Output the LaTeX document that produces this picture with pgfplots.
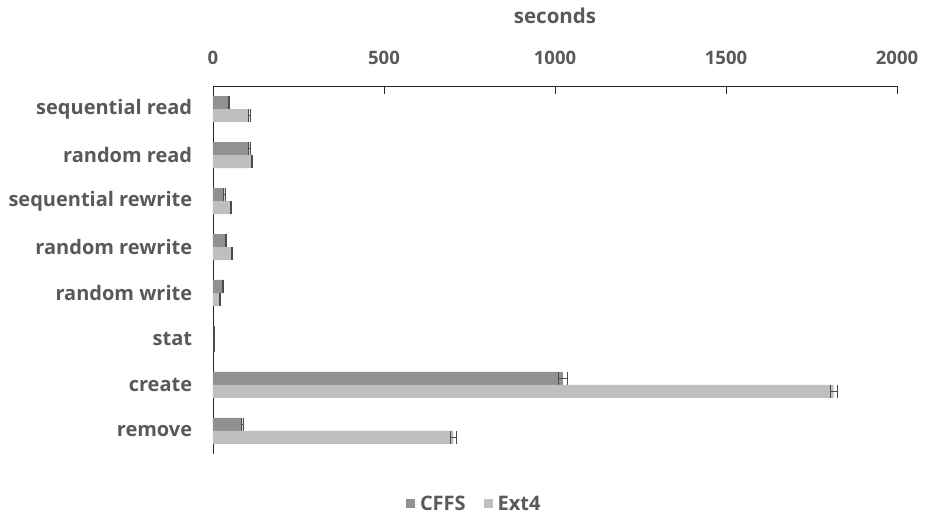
\documentclass[border=0pt]{standalone}
\usepackage{pgfplots}
\pgfplotsset{compat=1.18}
\usepackage{fontspec}
\setmainfont{Open Sans}
\definecolor{txt}{HTML}{595959}
\definecolor{cffs}{HTML}{919191}
\definecolor{ext}{HTML}{BFBFBF}
\definecolor{axl}{HTML}{262626}
\begin{document}
\fontsize{20pt}{24pt}\selectfont
\begin{tikzpicture}[x=1pt,y=1pt]
\path[use as bounding box] (0,0) rectangle (927,518);
\begin{axis}[
  at={(213pt,64pt)}, anchor=south west,
  scale only axis, width=684pt, height=368pt,
  xbar, bar width=13pt,
  xmin=0, xmax=2000,
  ymin=-0.5, ymax=7.5, y dir=reverse,
  axis x line*=top, axis y line*=left,
  axis line style={-, draw=axl, line width=0.9pt},
  xtick={0,500,1000,1500,2000},
  xtick style={draw=axl, line width=0.9pt},
  major tick length=8pt,
  xtick pos=top,
  ytick={0,...,7},
  yticklabels={sequential read,random read,sequential rewrite,random rewrite,random write,stat,create,remove},
  ytick style={draw=none},
  yticklabel style={font=\bfseries\fontsize{20pt}{24pt}\selectfont, text=txt, xshift=-6pt},
  xticklabel style={font=\bfseries\fontsize{18.5pt}{22pt}\selectfont, text=txt, yshift=14pt},
  /pgf/number format/assume math mode=true,
  /pgf/number format/1000 sep={},
  xlabel={seconds},
  xlabel style={font=\bfseries\fontsize{20.5pt}{24pt}\selectfont, text=txt, yshift=14pt},
  legend style={at={(0.382,-0.137)}, anchor=center, draw=none, fill=none,
    legend columns=2, font=\bfseries\fontsize{20pt}{24pt}\selectfont, text=txt,
    /tikz/every even column/.append style={column sep=16pt}},
  legend image code/.code={\path (0pt,0pt) -- (12pt,0pt); \fill[#1] (0pt,-4pt) rectangle (9pt,5pt);},
  error bars/error bar style={draw=black!70, line width=0.8pt},
  error bars/error mark options={draw=black!70, line width=0.8pt, mark size=6.5pt, rotate=90},
]
\addplot[fill=cffs, draw=none, bar shift=6.5pt,
  error bars/.cd, x dir=both, x explicit]
coordinates {
  (46,0) +- (2,0)
  (106,1) +- (2,0)
  (33,2) +- (2,0)
  (37,3) +- (2,0)
  (29,4) +- (2,0)
  (3,5) +- (1,0)
  (1023,6) +- (12,0)
  (86,7) +- (2,0)
};
\addplot[fill=ext, draw=none, bar shift=-6.5pt,
  error bars/.cd, x dir=both, x explicit]
coordinates {
  (106,0) +- (2,0)
  (114,1) +- (2,0)
  (53,2) +- (2,0)
  (55,3) +- (2,0)
  (21,4) +- (2,0)
  (3,5) +- (1,0)
  (1815,6) +- (11,0)
  (703,7) +- (8,0)
};
\legend{CFFS,Ext4}
\end{axis}
\end{tikzpicture}
\end{document}
